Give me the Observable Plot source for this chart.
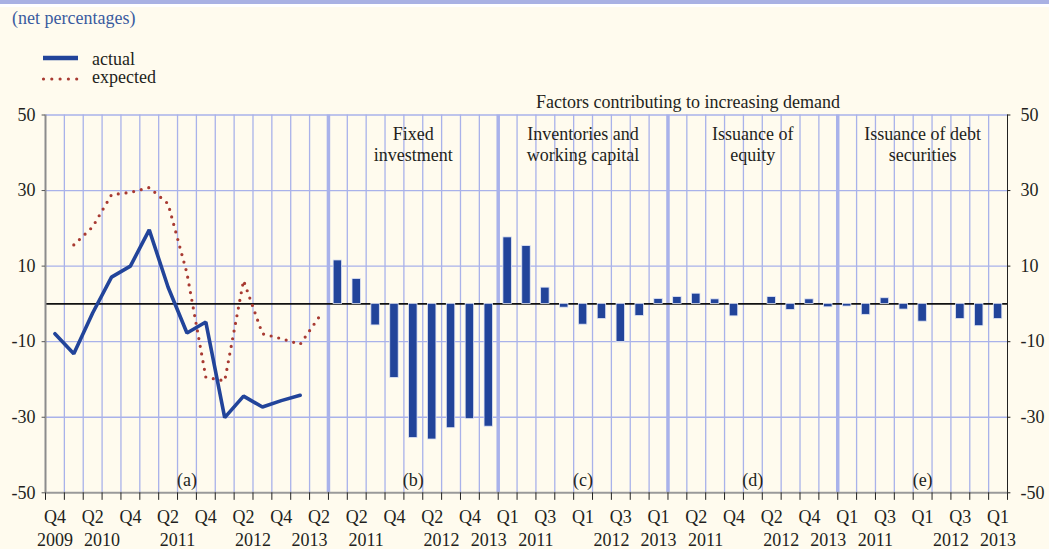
<!DOCTYPE html>
<html>
<head>
<meta charset="utf-8">
<script src="https://cdn.jsdelivr.net/npm/d3@7"></script>
<script src="https://cdn.jsdelivr.net/npm/@observablehq/plot@0.6"></script>
<style>
  html, body { margin: 0; padding: 0; background: #FFFBEE; }
  body { width: 1049px; height: 549px; overflow: hidden; font-family: "Liberation Serif", serif; color: #231f20; }
  #header { position: relative; height: 90px; }
  .band { position: absolute; left: 0; top: 0; width: 1049px; height: 4px; background: #A9B1E3; }
  .band2 { position: absolute; left: 0; top: 4px; width: 1049px; height: 3px; background: #ffffff; }
  .t { position: absolute; font-size: 18px; line-height: 18px; white-space: nowrap; }
  #sub { left: 12px; top: 9px; color: #3A5BA0; }
  #legsvg { position: absolute; left: 0; top: 0; }
  #chart svg { display: block; }
</style>
</head>
<body>
<div id="header">
  <div class="band"></div><div class="band2"></div>
  <div class="t" id="sub">(net percentages)</div>
  <svg id="legsvg" width="200" height="90">
    <line x1="43" x2="78" y1="58" y2="58" stroke="#22449A" stroke-width="4.5"></line>
    <line x1="43.5" x2="78" y1="79" y2="79" stroke="#A83A32" stroke-width="3.2" stroke-dasharray="0 8.3" stroke-linecap="round"></line>
  </svg>
  <div class="t" style="left:92px; top:50px;">actual</div>
  <div class="t" style="left:92px; top:68px;">expected</div>
</div>
<div id="chart"></div>
<script>
// ---------- data ----------
const quartersA = ["Q4 2009","Q1 2010","Q2 2010","Q3 2010","Q4 2010","Q1 2011","Q2 2011","Q3 2011","Q4 2011","Q1 2012","Q2 2012","Q3 2012","Q4 2012","Q1 2013","Q2 2013"];
const quartersFactor = ["Q1 2011","Q2 2011","Q3 2011","Q4 2011","Q1 2012","Q2 2012","Q3 2012","Q4 2012","Q1 2013"];

// panel (a): overall demand for loans
const actual   = [-7.9, -13.2, -2.4, 7.1, 10.0, 19.6, 4.4, -7.7, -4.8, -30.1, -24.4, -27.3, -25.6, -24.2, null];
const expected = [null, 15.6, 20.4, 28.9, 29.5, 30.8, 26.5, 8.1, -19.4, -20.4, 6.2, -7.9, -9.2, -10.7, -3.5];

// panels (b)-(e): factors
const fixedInvestment = [11.5, 6.6, -5.7, -19.6, -35.5, -35.9, -32.9, -30.5, -32.5];
const inventories     = [17.6, 15.3, 4.3, -1.0, -5.5, -4.0, -10.1, -3.2, 1.3];
const equityIssuance  = [1.8, 2.7, 1.2, -3.3, 0, 1.8, -1.6, 1.2, -0.9];
const debtIssuance    = [-0.7, -2.9, 1.5, -1.5, -4.7, 0, -4.0, -5.9, -4.0];

const panelKeys   = ["(a)", "(b)", "(c)", "(d)", "(e)"];
const panelTitles = ["", "Fixed\ninvestment", "Inventories and\nworking capital", "Issuance of\nequity", "Issuance of debt\nsecurities"];
const factorSeries = [fixedInvestment, inventories, equityIssuance, debtIssuance];
const quarterTickSets = [["Q4","Q2"], ["Q2","Q4"], ["Q1","Q3"], ["Q2","Q4"], ["Q1","Q3"]];
// year label: [quarter it belongs to, label, shift in quarters]
const yearTicksA = [["Q4 2009","2009",0],["Q2 2010","2010",0.5],["Q2 2011","2011",0.5],["Q2 2012","2012",0.5],["Q1 2013","2013",0.5]];
const yearTicksF = [["Q2 2011","2011",0.5],["Q2 2012","2012",0.5],["Q1 2013","2013",0]];
const yTicks = [50, 30, 10, -10, -30, -50];
const yGrid  = [50, 30, 10, -10, -30];
const overTitle = "Factors contributing to increasing demand";

// ---------- layout of categories ----------
const panelQuarters = [quartersA, quartersFactor, quartersFactor, quartersFactor, quartersFactor];
const panelStart = [];
let acc = 0;
for (const q of panelQuarters) { panelStart.push(acc); acc += q.length; }
const N = acc;
const panelEnds = panelStart.slice(1);

const lineData = quartersA.map((q, i) => ({i, q, actual: actual[i], expected: expected[i]}));
const barData = [];
factorSeries.forEach((s, p) => s.forEach((v, j) => barData.push({i: panelStart[p + 1] + j, v})));

const qLabels = [], yLabels = [];
panelQuarters.forEach((qs, p) => {
  qs.forEach((q, j) => {
    if (quarterTickSets[p].includes(q.slice(0, 2))) qLabels.push({i: panelStart[p] + j, text: q.slice(0, 2)});
  });
  const yt = p === 0 ? yearTicksA : yearTicksF;
  yt.forEach(([q, label, shift]) => yLabels.push({i: panelStart[p] + qs.indexOf(q) + shift, text: label}));
});
const panels = panelKeys.map((k, p) => ({key: k, title: panelTitles[p], mid: panelStart[p] + panelQuarters[p].length / 2}));
const innerBounds = d3.range(1, N).filter(b => !panelEnds.includes(b));
const allBounds = d3.range(0, N + 1);

const lav = "#A9B2EA";
const blue = "#22449A";
const red = "#A83A32";
const ink = "#231f20";
const font = "Liberation Serif";

const chart = Plot.plot({
  width: 1049,
  height: 459,
  marginTop: 24.5,
  marginBottom: 56.7,
  marginLeft: 45,
  marginRight: 42,
  x: {domain: [0, N], axis: null},
  y: {domain: [-50, 50], axis: null},
  style: {background: "transparent", fontFamily: font, fontSize: "18px", color: ink, overflow: "visible"},
  marks: [
    Plot.ruleY(yGrid, {stroke: lav, strokeWidth: 1.3}),
    Plot.ruleX(innerBounds, {y1: -50, y2: 50, stroke: lav, strokeWidth: 1.3}),
    Plot.ruleX(panelEnds, {y1: -50, y2: 50, stroke: lav, strokeWidth: 3.5}),
    Plot.ruleY([0], {stroke: "#111", strokeWidth: 1.6}),
    Plot.rect(barData, {x1: d => d.i, x2: d => d.i + 1, y1: () => 0, y2: "v", insetLeft: 5.2, insetRight: 5.2, fill: blue, stroke: "#dfe4f5", strokeWidth: 0.8}),
    // axes lines
    Plot.ruleY([-50], {stroke: "#9a9a9a", strokeWidth: 2}),
    Plot.ruleX(allBounds, {y1: -50, y2: -52, stroke: "#222", strokeWidth: 1}),
    Plot.ruleX([0], {y1: -50, y2: 50, stroke: "#8c8c8c", strokeWidth: 2}),
    Plot.ruleX([N], {y1: -50, y2: 50, stroke: "#222", strokeWidth: 1}),
    Plot.ruleY(yTicks, {x1: -0.18, x2: 0, stroke: "#555", strokeWidth: 1}),
    Plot.ruleY(yTicks, {x1: N, x2: N + 0.18, stroke: "#222", strokeWidth: 1}),
    // lines
    Plot.line(lineData, {x: d => d.i + 0.5, y: "expected", stroke: red, strokeWidth: 3.2, strokeDasharray: "0 7.8", strokeLinecap: "round"}),
    Plot.line(lineData, {x: d => d.i + 0.5, y: "actual", stroke: blue, strokeWidth: 3.6, strokeLinejoin: "miter"}),
    // y tick labels
    Plot.text(yTicks, {x: 0, y: d => d, text: d => String(d), textAnchor: "end", dx: -10, fontSize: 18, fontFamily: font, fill: ink}),
    Plot.text(yTicks, {x: N, y: d => d, text: d => String(d), textAnchor: "start", dx: 13, fontSize: 18, fontFamily: font, fill: ink}),
    // x tick labels
    Plot.text(qLabels, {x: d => d.i + 0.5, y: () => -50, text: "text", lineAnchor: "top", dy: 17, fontSize: 18, fontFamily: font, fill: ink}),
    Plot.text(yLabels, {x: d => d.i + 0.5, y: () => -50, text: "text", lineAnchor: "top", dy: 40, fontSize: 18, fontFamily: font, fill: ink}),
    // panel letters and titles
    Plot.text(panels, {x: "mid", y: () => -50, text: "key", dy: -13, fontSize: 18, fontFamily: font, fill: ink}),
    Plot.text(panels.filter(d => d.title), {x: "mid", y: () => 50, text: "title", lineAnchor: "top", dy: 10.7, lineHeight: 1.14, fontSize: 18, fontFamily: font, fill: ink}),
    Plot.text([overTitle], {x: () => (panelStart[1] + N) / 2, y: () => 50, text: d => d, dx: 20, dy: -13, fontSize: 18, fontFamily: font, fill: ink})
  ]
});
document.getElementById("chart").appendChild(chart);
</script>
</body>
</html>
